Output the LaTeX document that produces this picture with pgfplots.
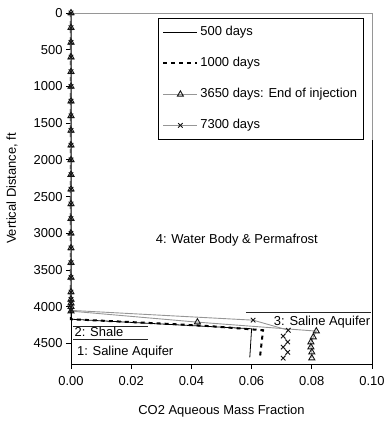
\documentclass[border=0pt]{standalone}
\usepackage{pgfplots}
\pgfplotsset{compat=1.18}
\usepackage{fontspec}
\setmainfont{Liberation Sans}
\definecolor{lgray}{RGB}{150,150,150}
\definecolor{mgray}{RGB}{20,20,20}
\begin{document}
\begin{tikzpicture}
\begin{axis}[
 scale only axis, width=301bp, height=351bp,
 at={(0,0)}, anchor=south west,
 font=\fontsize{13}{15}\selectfont,
 xmin=0, xmax=0.1, ymin=0, ymax=4780, y dir=reverse,
 xtick={0,0.02,0.04,0.06,0.08,0.1},
 ytick={0,500,1000,1500,2000,2500,3000,3500,4000,4500},
 scaled x ticks=false,
 xticklabel style={/pgf/number format/.cd, fixed, fixed zerofill, precision=2, /tikz/.cd, yshift=-4bp},
 /pgf/number format/1000 sep={},
 /pgf/number format/assume math mode=true,
 tick align=outside, major tick length=5bp,
 tick style={black, line width=0.8bp},
 axis line style={black, line width=0.8bp},
 xtick pos=left, ytick pos=left,
 clip=false,
 xlabel={CO2 Aqueous Mass Fraction},
 ylabel={Vertical Distance, ft},
 xlabel style={at={(axis cs:0.05,4780)}, anchor=center, yshift=-47bp},
 ylabel style={at={(axis cs:0,2390)}, anchor=center, yshift=59bp},
 legend cell align=left,
 legend style={at={(axis cs:0.0289,68)}, anchor=north west, draw=black, line width=0.8bp, fill=white,
   font=\fontsize{13}{15}\selectfont, inner xsep=4bp, inner ysep=6bp, row sep=15bp,
   nodes={inner sep=2bp, text height=9bp, text depth=3bp}},
 legend image code/.code={\draw[mark repeat=2,mark phase=2,#1] plot coordinates {(0bp,0bp) (17bp,0bp) (34bp,0bp)};},
]
% 500 days
\addplot[black, line width=0.8bp] coordinates {(0,0) (0,4050) (0,4170) (0.0600,4300) (0.0594,4690)};
\addlegendentry{500 days}
% 1000 days
\addplot[black, line width=2bp, dash pattern=on 4bp off 4bp] coordinates {(0,0) (0,4050) (0,4170) (0.034,4237) (0.046,4264) (0.059,4305) (0.0638,4320) (0.0628,4680)};
\addlegendentry{1000 days}
% 3650 days
\addplot[lgray, line width=0.9bp, mark=triangle, mark size=3.5bp, mark options={mgray, solid, line width=0.9bp}] coordinates {
(0,0) (0,200) (0,400) (0,600) (0,800) (0,1000) (0,1200) (0,1400) (0,1600) (0,1800) (0,2000)
(0,2200) (0,2400) (0,2600) (0,2800) (0,3000) (0,3200) (0,3400) (0,3600) (0,3800) (0,3900)
(0,3950) (0,4000) (0,4060) (0.042,4210) (0.0815,4332) (0.0805,4414) (0.0797,4482) (0.0797,4550)
(0.0800,4619) (0.0800,4700)};
\addlegendentry{3650 days: End of injection}
% 7300 days
\addplot[lgray, line width=0.9bp, mark=x, mark size=3.2bp, mark options={mgray, solid, line width=0.9bp}] coordinates {
(0,0) (0,200) (0,400) (0,600) (0,800) (0,1000) (0,1200) (0,1400) (0,1600) (0,1800) (0,2000)
(0,2200) (0,2400) (0,2600) (0,2800) (0,3000) (0,3200) (0,3400) (0,3600) (0,3800) (0,3900)
(0,3950) (0,4000) (0,4050) (0.0605,4183) (0.0722,4320) (0.0705,4400) (0.0720,4480) (0.0705,4550)
(0.0720,4620) (0.0705,4700)};
\addlegendentry{7300 days}
% frame
\draw[lgray, line width=1bp] (axis cs:0,0) -- (axis cs:0.1,0) -- (axis cs:0.1,1730);
% layer lines
\draw[black!85, line width=0.8bp] (axis cs:0.0007,4264) -- (axis cs:0.0256,4264);
\draw[black!85, line width=0.8bp] (axis cs:0.0007,4441) -- (axis cs:0.0256,4441);
\draw[black!85, line width=0.8bp] (axis cs:0.0581,4074) -- (axis cs:0.0997,4074);
% labels
\node[anchor=center] at (axis cs:0.0551,3093) {4: Water Body \& Permafrost};
\node[anchor=center] at (axis cs:0.0834,4210) {3: Saline Aquifer};
\node[anchor=center] at (axis cs:0.0093,4340) {2: Shale};
\node[anchor=center] at (axis cs:0.018,4625) {1: Saline Aquifer};
\end{axis}
\pgfresetboundingbox
\path[use as bounding box] (-71bp,-57bp) rectangle (314bp,364bp);
\end{tikzpicture}
\end{document}
